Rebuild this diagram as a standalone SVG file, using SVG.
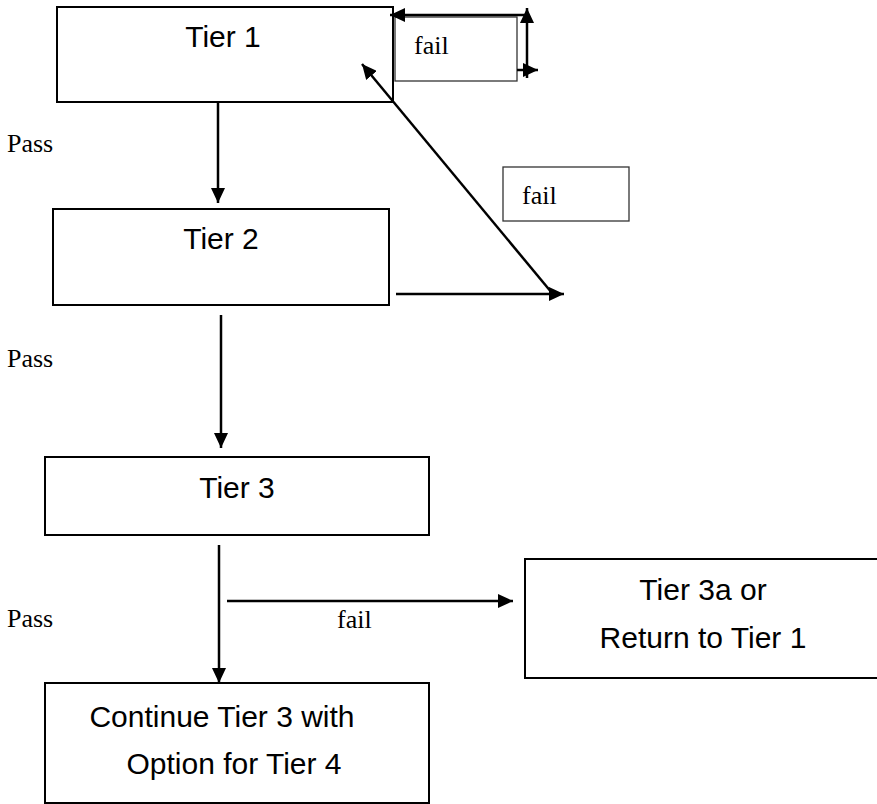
<svg xmlns="http://www.w3.org/2000/svg" width="877" height="804" viewBox="0 0 877 804">
<style>
.box{fill:#fff;stroke:#000;stroke-width:2}
.lbox{fill:#fff;stroke:#333;stroke-width:1.3}
.t{font-family:"Liberation Sans",Arial,sans-serif;font-size:30px;fill:#000;text-anchor:middle}
.s{font-family:"Liberation Serif","Times New Roman",serif;font-size:26px;fill:#000}
.c{fill:none;stroke:#000;stroke-width:2.5}
</style>
<defs>
<marker id="ah" markerUnits="userSpaceOnUse" markerWidth="16" markerHeight="14" refX="15" refY="7" orient="auto">
<path d="M0,0 L15,7 L0,14 z" fill="#000"/>
</marker>
</defs>
<rect width="877" height="804" fill="#fff"/>
<g id="tier1"><rect class="box" x="57" y="7" width="336" height="95"/><text class="t" x="223" y="47">Tier 1</text></g>
<g id="fail1"><rect class="lbox" x="395" y="17" width="122" height="64"/><text class="s" x="414" y="54">fail</text></g>
<g id="tier2"><rect class="box" x="53" y="209" width="336" height="96"/><text class="t" x="221" y="249">Tier 2</text></g>
<g id="fail2"><rect class="lbox" x="503" y="167" width="126" height="54"/><text class="s" x="522" y="204">fail</text></g>
<g id="tier3"><rect class="box" x="45" y="457" width="384" height="78"/><text class="t" x="237" y="498">Tier 3</text></g>
<g id="tier3a"><rect class="box" x="525" y="559" width="360" height="119"/><text class="t" x="703" y="600">Tier 3a or</text><text class="t" x="703" y="648">Return to Tier 1</text></g>
<g id="tier4"><rect class="box" x="45" y="683" width="384" height="120"/><text class="t" x="222" y="727">Continue Tier 3 with</text><text class="t" x="234" y="774">Option for Tier 4</text></g>
<g id="labels">
<text class="s" x="7" y="152">Pass</text>
<text class="s" x="7" y="367">Pass</text>
<text class="s" x="7" y="627">Pass</text>
<text class="s" x="337" y="628">fail</text>
</g>
<g id="connectors">
<line class="c" x1="218" y1="102" x2="218" y2="203" marker-end="url(#ah)"/>
<line class="c" x1="221" y1="315" x2="221" y2="448" marker-end="url(#ah)"/>
<line class="c" x1="219" y1="545" x2="219" y2="683" marker-end="url(#ah)"/>
<line class="c" x1="227" y1="601" x2="513" y2="601" marker-end="url(#ah)"/>
<line class="c" x1="396" y1="294" x2="564" y2="294" marker-end="url(#ah)"/>
<line class="c" x1="552" y1="293" x2="362" y2="64" marker-end="url(#ah)"/>
<line class="c" x1="517" y1="70" x2="538" y2="70" marker-end="url(#ah)"/>
<line class="c" x1="527" y1="78" x2="527" y2="8" marker-end="url(#ah)"/>
<line class="c" x1="527" y1="15" x2="390" y2="15" marker-end="url(#ah)"/>
</g>
</svg>
